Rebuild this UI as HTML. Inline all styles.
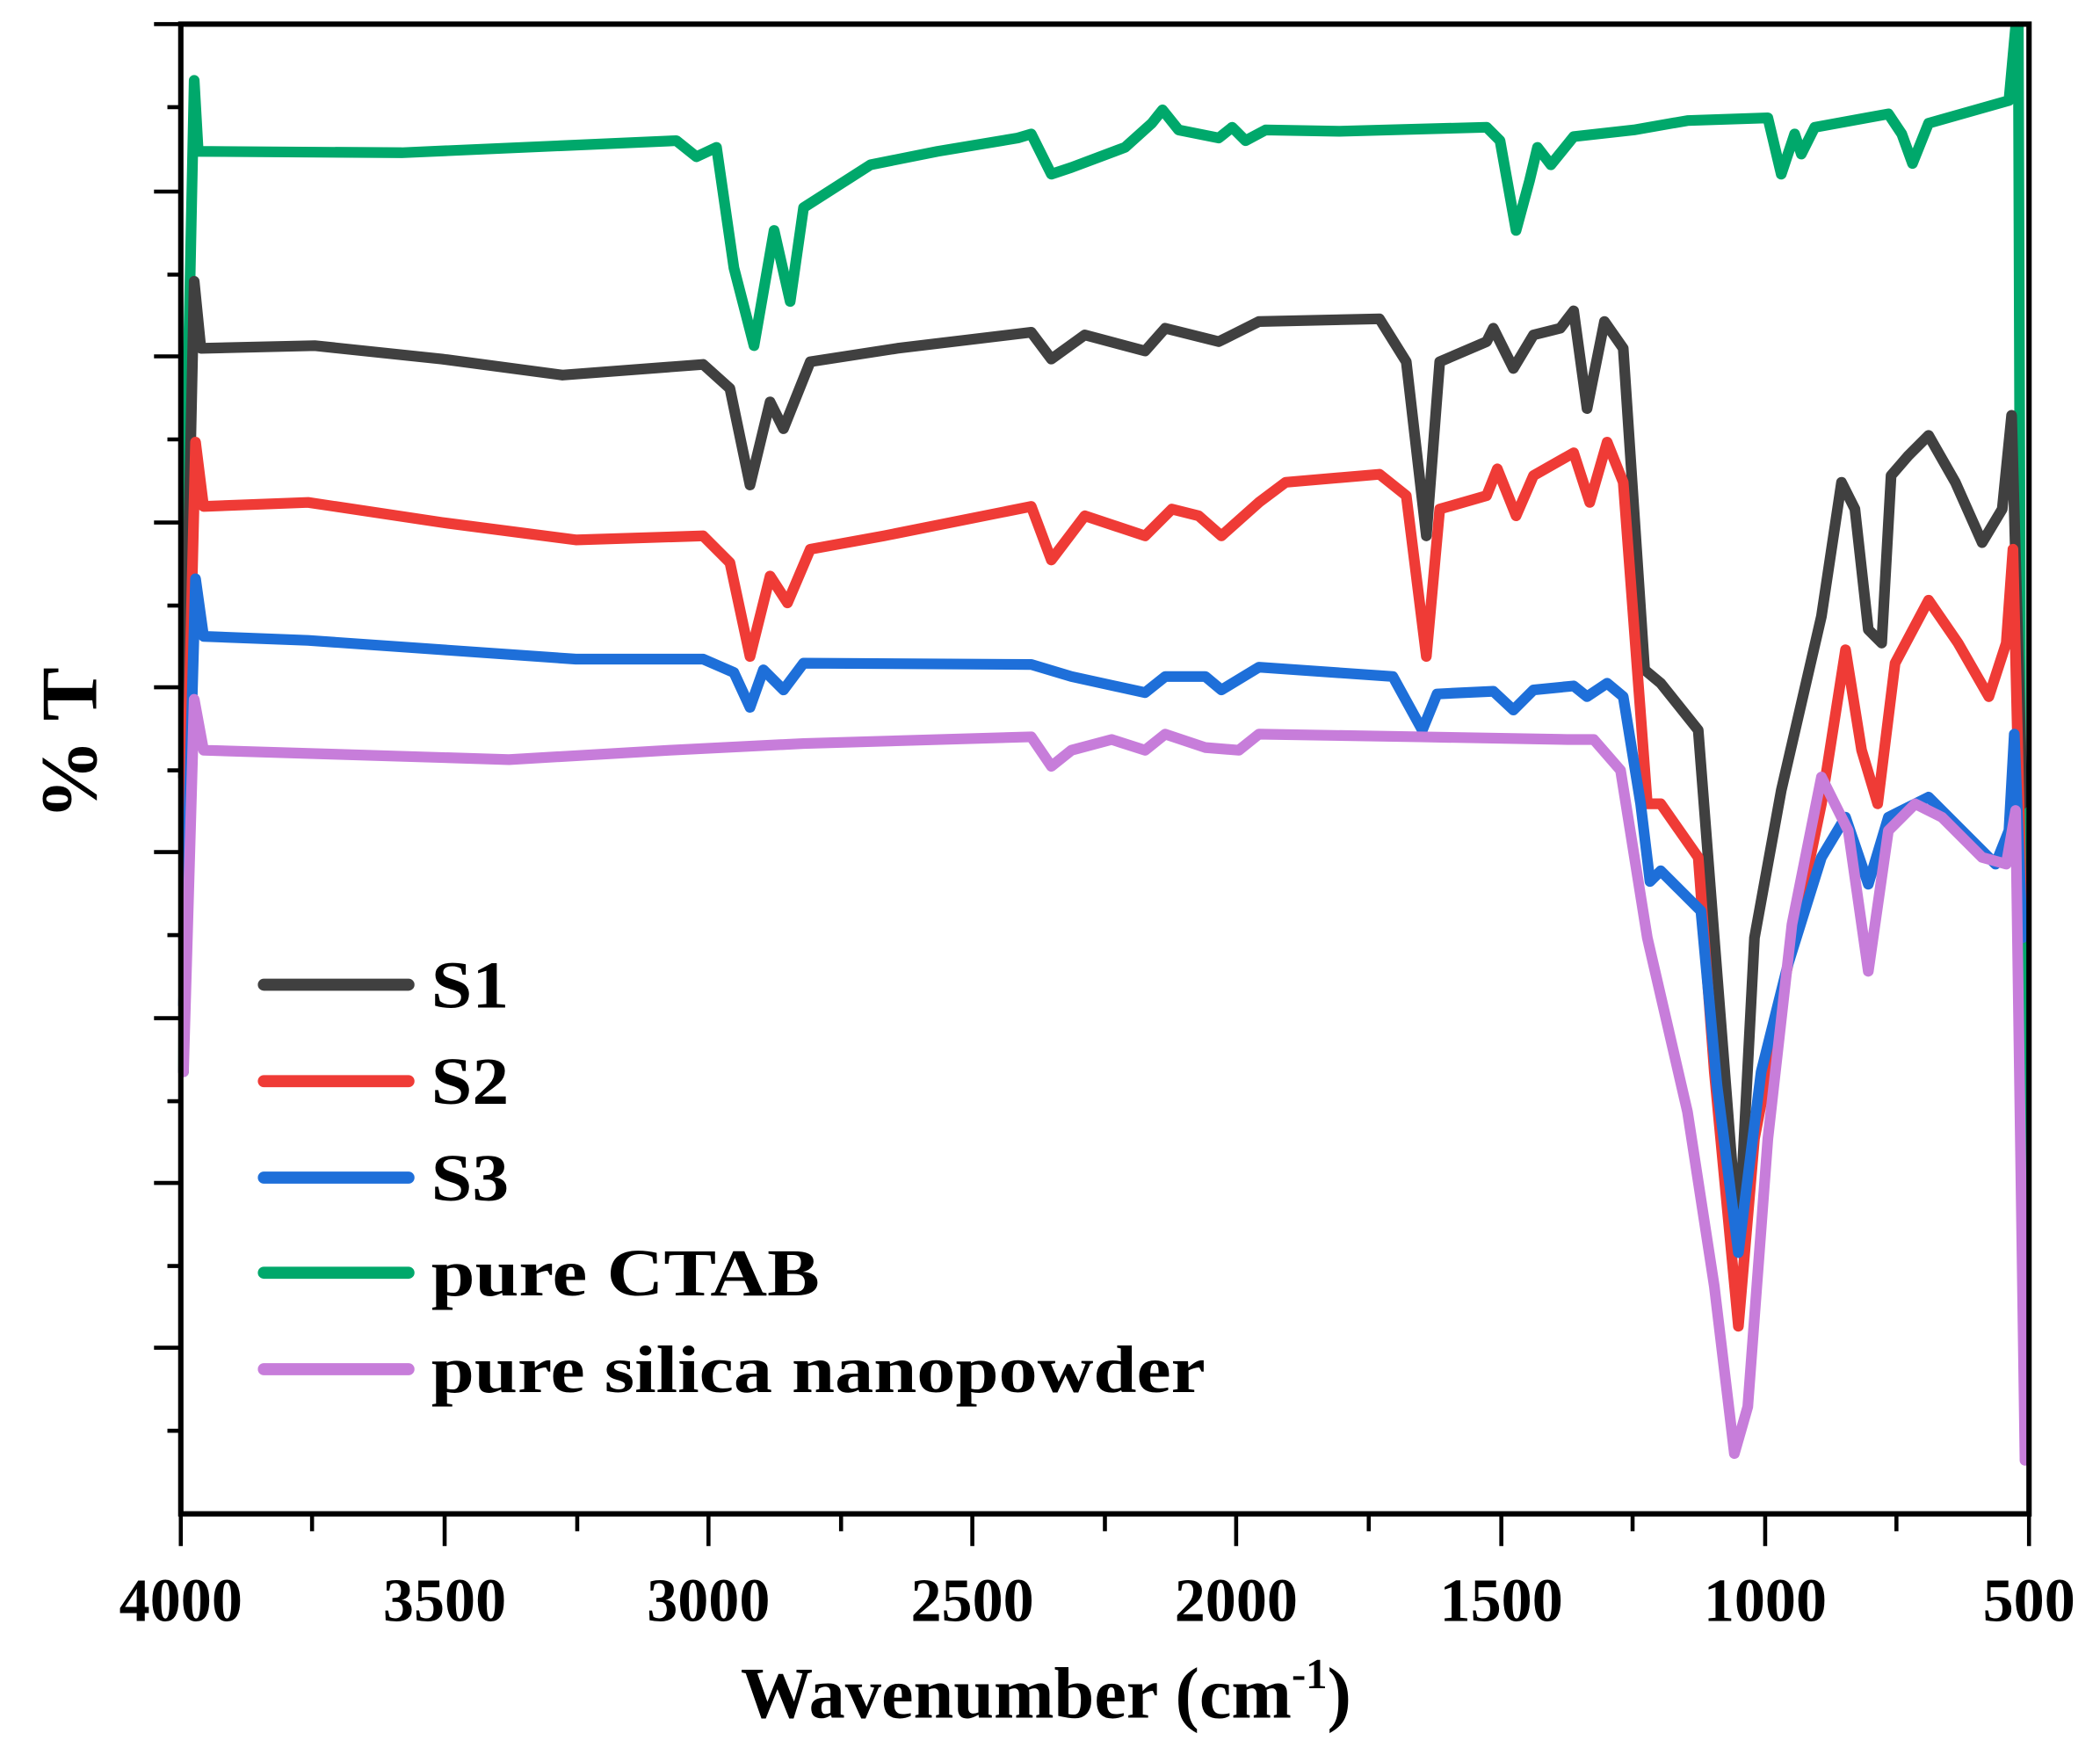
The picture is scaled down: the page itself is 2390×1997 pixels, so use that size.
<!DOCTYPE html>
<html><head><style>html,body{margin:0;padding:0;background:#fff}svg{display:block}</style></head><body>
<svg width="2390" height="1997" viewBox="0 0 1568 1310" preserveAspectRatio="none" xmlns="http://www.w3.org/2000/svg" font-family="Liberation Serif, serif" font-weight="bold">
<g fill="none" stroke-linejoin="round" stroke-linecap="round" stroke-width="8">
<polyline stroke="#00a86b" points="137,800 140,300 145,60 148,113 300,114 505,105 520,117 535,110 548,200 563,258 578,172 590,225 600,155 650,123 700,113 760,103 770,100 785,130 800,125 840,110 860,92 868,82 880,97 910,103 920,95 930,105 945,97 1000,98 1110,95 1120,105 1132,172 1142,135 1148,110 1158,123 1175,102 1220,97 1260,90 1320,88 1330,130 1340,100 1345,115 1355,95 1410,85 1420,100 1428,122 1440,92 1500,75 1505,20"/>
<polyline stroke="#00a86b" points="1507,20 1509,600 1511,1000"/>
<polyline stroke="#404040" points="137,580 145,210 150,260 235,258 330,268 420,280 525,272 545,290 560,362 575,300 585,320 605,270 670,260 770,248 785,268 810,250 855,262 870,245 910,255 940,240 1030,238 1050,270 1065,400 1075,270 1110,255 1115,245 1130,275 1145,250 1165,245 1175,232 1185,305 1198,240 1212,260 1228,500 1240,510 1268,545 1280,700 1298,930 1310,700 1330,590 1360,460 1375,360 1385,380 1395,470 1405,480 1412,355 1425,340 1440,325 1460,360 1480,405 1495,380 1502,310 1510,600"/>
<polyline stroke="#ef3b36" points="137,700 146,330 152,378 230,375 330,390 430,403 525,400 545,420 560,490 575,430 588,450 605,410 660,400 770,378 785,418 810,385 855,400 875,380 895,385 912,400 940,375 960,360 1030,354 1050,370 1065,490 1075,380 1110,370 1118,350 1132,385 1145,355 1175,338 1187,375 1200,330 1212,360 1230,600 1240,600 1268,640 1280,800 1298,990 1310,850 1335,720 1360,600 1378,485 1390,560 1402,600 1415,495 1440,448 1462,480 1485,520 1498,480 1503,410 1510,700"/>
<polyline stroke="#1e6fd9" points="137,750 146,432 152,475 230,478 330,485 430,492 525,492 548,502 560,528 570,500 585,515 600,495 770,496 800,505 855,517 870,505 900,505 912,515 940,498 1040,505 1062,545 1073,518 1115,516 1130,530 1145,515 1175,512 1185,520 1200,510 1212,520 1225,600 1232,658 1240,650 1270,680 1282,810 1298,935 1315,800 1335,720 1360,640 1378,610 1395,660 1410,610 1440,595 1465,620 1490,645 1500,620 1504,548 1510,700"/>
<polyline stroke="#c77dda" points="137,800 145,522 152,560 250,563 380,567 500,560 600,555 770,550 785,572 800,560 830,552 855,560 870,548 900,558 925,560 940,548 1060,550 1170,552 1190,552 1210,575 1230,700 1260,830 1280,960 1295,1085 1305,1050 1320,850 1338,690 1360,580 1380,620 1395,725 1410,620 1430,600 1450,610 1480,640 1498,645 1505,605 1512,1090"/>
</g>
<g stroke="#000" fill="none">
<rect x="135" y="18" width="1380" height="1112" stroke-width="4"/>
<g stroke-width="3">
<path d="M135,143h-20M135,266h-20M135,390h-20M135,513h-20M135,636h-20M135,760h-20M135,883h-20M135,1006h-20M135,18h-20"/>
<path d="M135,80h-10M135,205h-10M135,328h-10M135,452h-10M135,575h-10M135,698h-10M135,822h-10M135,945h-10M135,1068h-10"/>
<path d="M135,1130v24M332,1130v24M529,1130v24M726,1130v24M923,1130v24M1121,1130v24M1318,1130v24M1515,1130v24"/>
<path d="M233,1130v13M431,1130v13M628,1130v13M825,1130v13M1022,1130v13M1219,1130v13M1416,1130v13"/>
</g>
</g>
<g font-size="46" text-anchor="middle" fill="#000">
<text x="135" y="1210">4000</text><text x="332" y="1210">3500</text><text x="529" y="1210">3000</text><text x="726" y="1210">2500</text><text x="923" y="1210">2000</text><text x="1121" y="1210">1500</text><text x="1318" y="1210">1000</text><text x="1515" y="1210">500</text>
</g>
<text x="553" y="1282" font-size="54">Wavenumber (cm<tspan font-size="32" dy="-22">-1</tspan><tspan dy="22">)</tspan></text>
<text transform="translate(72,555) rotate(-90)" font-size="60" text-anchor="middle">% T</text>
<g stroke-width="9" stroke-linecap="round">
<line x1="197" y1="735" x2="305" y2="735" stroke="#404040"/>
<line x1="197" y1="807" x2="305" y2="807" stroke="#ef3b36"/>
<line x1="197" y1="879" x2="305" y2="879" stroke="#1e6fd9"/>
<line x1="197" y1="950" x2="305" y2="950" stroke="#00a86b"/>
<line x1="197" y1="1022" x2="305" y2="1022" stroke="#c77dda"/>
</g>
<g font-size="50" fill="#000">
<text x="322" y="752" textLength="58" lengthAdjust="spacingAndGlyphs">S1</text><text x="322" y="824" textLength="58" lengthAdjust="spacingAndGlyphs">S2</text><text x="322" y="896" textLength="58" lengthAdjust="spacingAndGlyphs">S3</text><text x="322" y="967" textLength="290" lengthAdjust="spacingAndGlyphs">pure CTAB</text><text x="322" y="1039" textLength="578" lengthAdjust="spacingAndGlyphs">pure silica nanopowder</text>
</g>
</svg>
</body></html>
